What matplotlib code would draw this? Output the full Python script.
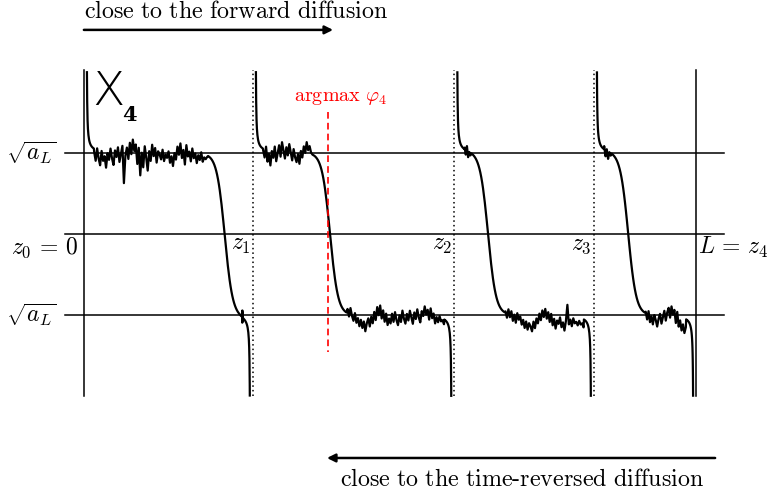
import numpy as np
import matplotlib
matplotlib.use("Agg")
import matplotlib.pyplot as plt

plt.rcParams["mathtext.fontset"] = "cm"

# segment boundaries z_0 .. z_4 (L = 1) and centres of the sign flips
Z = [0.0, 0.276, 0.605, 0.833, 1.0]
FLIP = [0.230, 0.402, 0.660, 0.889]
ARGMAX = 0.399
Z_LABELS = ["$z_1$", "$z_2$", "$z_3$"]

# hand-read wiggles on each plateau (units of sqrt(a_L)); upper, lower per segment
NOISE_UP = [
    [-0.04, -0.14, 0.02, -0.10, -0.18, 0.00, -0.12, -0.06, -0.20, -0.02,
     -0.10, 0.04, -0.08, -0.16, 0.02, -0.06, 0.06, -0.12, -0.02, 0.08,
     -0.38, -0.04, 0.06, -0.08, 0.12, -0.02, 0.16, 0.02, 0.10, -0.14,
     0.06, -0.28, 0.00, -0.18, 0.08, -0.06, -0.22, 0.02, -0.10, 0.10,
     -0.04, 0.06, -0.12, 0.02, -0.02, -0.08, 0.04, -0.10, -0.02, -0.06,
     0.02, -0.12, -0.04, -0.16, 0.00, -0.08, 0.08, -0.02, 0.12, -0.06,
     0.04, -0.14, 0.10, -0.04, 0.02, -0.10, 0.06, -0.06, 0.00, -0.12,
     -0.02, -0.08, 0.02, -0.10, -0.04, -0.06, -0.02],
    [-0.02, -0.10, 0.04, -0.14, -0.04, -0.18, 0.00, -0.08, 0.06, -0.12,
     -0.02, 0.08, -0.06, 0.12, 0.02, -0.08, 0.06, -0.04, 0.10, 0.00,
     -0.10, 0.04, -0.06, -0.12, -0.02, -0.14, 0.02, -0.06, 0.08, 0.00,
     0.14, 0.04, 0.10, 0.02, 0.00],
    [0.02, -0.06, 0.06, -0.08, 0.00, -0.04],
    [0.04, -0.08, 0.02, -0.10, 0.00, -0.04],
]
NOISE_LO = [
    [0.06, -0.08, 0.10, -0.06, 0.04, -0.02],
    [0.06, -0.04, 0.08, -0.02, -0.08, 0.02, -0.10, -0.04, -0.14, -0.06,
     -0.16, -0.08, -0.20, -0.10, -0.04, -0.14, -0.02, -0.10, 0.04, -0.06,
     0.10, 0.00, 0.12, -0.04, 0.06, -0.08, 0.02, -0.12, -0.04, -0.10,
     0.02, -0.08, 0.04, -0.06, -0.12, 0.00, -0.08, 0.06, -0.04, -0.10,
     0.02, -0.06, 0.06, -0.02, -0.10, 0.04, -0.04, 0.08, -0.02, -0.08,
     0.06, 0.00, 0.12, 0.02, 0.08, -0.04, 0.10, -0.02, 0.04, -0.08,
     0.00, -0.06, 0.02, -0.04, -0.02, -0.06],
    [0.02, -0.06, 0.06, -0.04, 0.04, -0.08, 0.00, -0.10, 0.02, -0.06,
     -0.02, -0.12, -0.06, -0.16, -0.08, -0.18, -0.10, -0.14, -0.20, -0.08,
     -0.16, -0.04, -0.10, 0.02, -0.06, 0.06, -0.02, 0.08, -0.04, 0.04,
     -0.08, 0.02, -0.12, -0.04, -0.16, -0.06, -0.10, -0.02, -0.14, -0.08,
     -0.18, -0.06, 0.14, -0.10, -0.04, -0.12, -0.02, -0.08, -0.06, -0.10,
     -0.04, -0.08, -0.06, -0.10],
    [0.02, -0.08, 0.04, -0.10, -0.02, -0.12, 0.00, -0.06, -0.14, -0.04,
     0.02, -0.10, -0.02, 0.06, -0.06, 0.04, 0.10, -0.02, 0.12, 0.02,
     0.08, -0.08, 0.06, -0.12, -0.04, -0.16, -0.08, -0.18, -0.10],
]

W = 0.013        # half-width scale of the flip
KNEE_A = 0.0007  # blow-up strength near the z_i
KNEE_S = 0.0043


def shape(x, z0, z1, c):
    return (-np.tanh((x - c) / W) + KNEE_A / (x - z0 - KNEE_S)
            - KNEE_A / (z1 - KNEE_S - x))


def segment(i):
    z0, z1, c = Z[i], Z[i + 1], FLIP[i]
    knee = np.geomspace(KNEE_A, 0.012, 20)
    xs = [z0 + KNEE_S + knee]
    ns = [np.zeros_like(knee)]
    up = np.linspace(z0 + KNEE_S + 0.0125, c - 2.2 * W, len(NOISE_UP[i]))
    xs.append(up); ns.append(np.array(NOISE_UP[i]))
    tr = np.linspace(c - 2.2 * W, c + 2.2 * W, 40)[1:-1]
    xs.append(tr); ns.append(np.zeros_like(tr))
    lo = np.linspace(c + 2.2 * W, z1 - KNEE_S - 0.0125, len(NOISE_LO[i]))
    xs.append(lo); ns.append(np.array(NOISE_LO[i]))
    xe = z1 - KNEE_S - knee[::-1]
    xs.append(xe); ns.append(np.zeros_like(xe))
    x = np.concatenate(xs)
    n = np.concatenate(ns)
    env = np.clip((np.abs(np.tanh((x - c) / W)) - 0.85) / 0.15, 0, 1)
    y = np.clip(shape(x, z0, z1, c) + n * env, -2.0, 2.02)
    return x, y


fig = plt.figure(figsize=(7.69, 4.98), dpi=100)
ax = fig.add_axes([0, 0, 1, 1])
ax.set_xlim(-0.137, 1.119)
ax.set_ylim(-3.259, 2.889)
ax.axis("off")

for lev in (1, 0, -1):
    ax.plot([-0.031, 1.046], [lev, lev], color="black", lw=1.1)
ax.plot([Z[0], Z[0]], [-2.0, 2.02], color="black", lw=1.1)
ax.plot([Z[-1], Z[-1]], [-2.0, 2.02], color="black", lw=1.1)
for z in Z[1:-1]:
    ax.plot([z, z], [-2.0, 2.02], color="black", lw=1.1, ls=(0, (1, 2)))

for i in range(4):
    x, y = segment(i)
    ax.plot(x, y, color="black", lw=1.6)

ax.plot([ARGMAX, ARGMAX], [1.506, -1.457], color="red", lw=1.2, ls=(0, (4, 2.5)))
ax.text(ARGMAX + 0.02, 1.69, r"$\mathrm{argmax}\ \varphi_4$", color="red",
        fontsize=14.5, ha="center", va="center")

fs = 17
ax.text(-0.045, 1, r"$\sqrt{a_L}$", fontsize=fs, ha="right", va="center")
ax.text(-0.045, -1, r"$\sqrt{a_L}$", fontsize=fs, ha="right", va="center")
ax.text(-0.01, -0.17, r"$z_0\,=\,0$", fontsize=fs, ha="right", va="center")
for z, lab in zip(Z[1:-1], Z_LABELS):
    ax.text(z - 0.003, -0.12, lab, fontsize=fs, ha="right", va="center")
ax.text(Z[-1] + 0.003, -0.17, r"$L\,=\,z_4$", fontsize=fs, ha="left", va="center")

ax.text(0.014, 1.75, "X", fontsize=34, ha="left", va="center",
        family=["Liberation Sans Narrow", "DejaVu Sans"], fontweight="light")
ax.text(0.062, 1.47, "4", fontsize=15, ha="left", va="center",
        family="DejaVu Serif", fontweight="bold")

ax.annotate("", xy=(0.407, 2.52), xytext=(0.0, 2.52),
            arrowprops=dict(arrowstyle="-|>", lw=1.8, color="black", mutation_scale=12,
                            shrinkA=0, shrinkB=0))
ax.text(0.0, 2.67, r"$\mathrm{close\ to\ the\ forward\ diffusion}$", fontsize=17.3,
        ha="left", va="baseline")
ax.annotate("", xy=(0.397, -2.765), xytext=(1.031, -2.765),
            arrowprops=dict(arrowstyle="-|>", lw=1.8, color="black", mutation_scale=12,
                            shrinkA=0, shrinkB=0))
ax.text(0.716, -3.02, r"$\mathrm{close\ to\ the\ time\text{-}reversed\ diffusion}$",
        fontsize=17.3, ha="center", va="center")

fig.savefig("out.png", dpi=100)
